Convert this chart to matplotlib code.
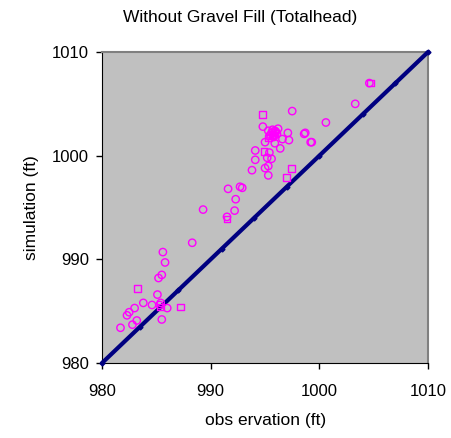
import numpy as np
import matplotlib.pyplot as plt

plt.rcParams['font.family'] = ['Liberation Sans', 'DejaVu Sans']

# observed vs simulated total head (ft), circles
obs_c = [1004.6, 1003.3, 1000.6, 998.7, 999.3, 997.5, 995.6, 995.8, 995.4, 995.9,
         996.1, 994.8, 997.1, 997.2, 998.6, 999.2, 995.9, 995.0, 994.1, 996.4,
         995.4, 994.1, 995.2, 995.6, 993.8, 995.0, 995.3, 992.9, 991.6, 992.7,
         992.3, 989.3, 992.2, 991.5, 988.3, 985.6, 985.8, 985.5, 985.2, 985.1,
         985.3, 986.0, 984.6, 983.8, 983.0, 982.5, 982.3, 983.2, 982.8, 985.5,
         981.7, 995.3, 996.6, 995.7, 996.0, 995.5, 995.8, 996.2, 995.3, 985.4]
sim_c = [1007.0, 1005.0, 1003.2, 1002.2, 1001.3, 1004.3, 1002.2, 1002.0, 1001.9, 1002.4,
         1002.1, 1002.8, 1002.2, 1001.5, 1002.1, 1001.3, 1001.2, 1001.3, 1000.5, 1000.7,
         1000.3, 999.6, 999.8, 999.7, 998.6, 998.8, 998.1, 996.9, 996.8, 997.0,
         995.8, 994.8, 994.7, 994.1, 991.6, 990.7, 989.7, 988.5, 988.2, 986.6,
         985.6, 985.3, 985.6, 985.8, 985.3, 984.9, 984.6, 984.1, 983.7, 984.2,
         983.4, 999.0, 1001.6, 1002.5, 1002.3, 1002.0, 1001.8, 1002.6, 1002.4, 985.8]

# squares
obs_s = [1004.7, 994.8, 997.4, 997.0, 983.3, 987.2, 985.4, 995.7, 991.5, 995.3, 994.9, 995.9]
sim_s = [1007.0, 1004.0, 998.8, 997.9, 987.2, 985.4, 985.4, 1002.0, 993.9, 1001.7, 1000.4, 1002.2]

# 1:1 reference line
line_x = [980, 983.5, 987, 991, 994, 997, 1000, 1004, 1007, 1010]
line_y = line_x

fig = plt.figure(figsize=(4.52, 4.38), dpi=100)
ax = fig.add_axes([0.2257, 0.1712, 0.7213, 0.7101])
ax.set_facecolor('#c0c0c0')

ax.plot(line_x, line_y, color='#000080', lw=3, marker='D', ms=2.5,
        solid_capstyle='round', clip_on=False, zorder=3)
ax.scatter(obs_c, sim_c, s=28, facecolors='none', edgecolors='#ff00ff',
           linewidths=1.0, marker='o', zorder=4)
ax.scatter(obs_s, sim_s, s=24, facecolors='none', edgecolors='#ff00ff',
           linewidths=1.0, marker='s', zorder=4)

ax.set_xlim(980, 1010)
ax.set_ylim(980, 1010)
ax.set_xticks([980, 990, 1000, 1010])
ax.set_yticks([980, 990, 1000, 1010])
ax.tick_params(direction='out', length=4.3, width=1, labelsize=12)
ax.tick_params(axis='x', pad=11)
ax.tick_params(axis='y', pad=5)

for side in ['top', 'right']:
    ax.spines[side].set_color('#808080')
    ax.spines[side].set_linewidth(1.5)
for side in ['left', 'bottom']:
    ax.spines[side].set_color('black')

fig.text(0.531, 0.961, 'Without Gravel Fill (Totalhead)', fontsize=12.5,
         ha='center', va='center')
fig.text(0.588, 0.041, 'obs ervation (ft)', fontsize=12.5,
         ha='center', va='center')
fig.text(0.069, 0.525, 'simulation (ft)', fontsize=12.5, rotation=90,
         ha='center', va='center')

fig.savefig('out.png', dpi=100, facecolor='white')
